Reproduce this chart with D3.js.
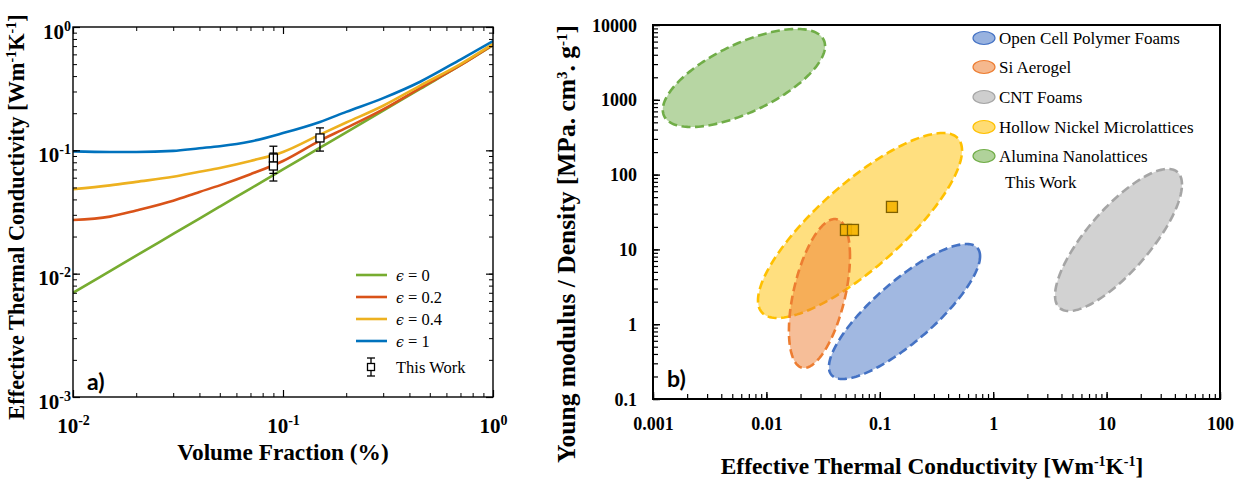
<!DOCTYPE html>
<html>
<head>
<meta charset="utf-8">
<script src="https://cdn.jsdelivr.net/npm/d3@7"></script>
<style>
  body { margin: 0; background: #fff; }
  svg { display: block; }
</style>
</head>
<body>
<svg id="fig" width="1236" height="480"></svg>
<script>
// ---------- Panel a: effective thermal conductivity vs volume fraction ----------
const volumeFraction = [0.01, 0.015, 0.02, 0.03, 0.04, 0.05, 0.07, 0.1, 0.15, 0.2, 0.3, 0.45, 0.7, 1.0];
const kEps0   = [0.0070, 0.0105, 0.0140, 0.0210, 0.0280, 0.0350, 0.0490, 0.0700, 0.105, 0.140, 0.210, 0.315, 0.490, 0.710];
const kEps02  = [0.0272, 0.0290, 0.0325, 0.0390, 0.0460, 0.0520, 0.0640, 0.0820, 0.120, 0.152, 0.215, 0.320, 0.490, 0.720];
const kEps04  = [0.0485, 0.0520, 0.0555, 0.0610, 0.0670, 0.0720, 0.0820, 0.0970, 0.134, 0.168, 0.230, 0.335, 0.500, 0.730];
const kEps1   = [0.0980, 0.0970, 0.0970, 0.0990, 0.1040, 0.1080, 0.1180, 0.1380, 0.170, 0.205, 0.265, 0.360, 0.545, 0.770];
const epsLabels = ["0", "0.2", "0.4", "1"];

// measured samples (volume fraction, conductivity, error bar low/high)
const samplePhi  = [0.09, 0.09, 0.15];
const sampleK    = [0.0866, 0.0746, 0.126];
const sampleKLo  = [0.065, 0.0564, 0.0986];
const sampleKHi  = [0.108, 0.095, 0.152];

const phiTicks = [0.01, 0.1, 1];
const kTicksA  = [0.001, 0.01, 0.1, 1];

// ---------- Panel b: specific modulus vs conductivity ----------
const materials = ["Open Cell Polymer Foams", "Si Aerogel", "CNT Foams", "Hollow Nickel Microlattices", "Alumina Nanolattices"];
const condMin   = [0.0356, 0.0158, 3.51, 0.00843, 0.00122];
const condMax   = [0.766, 0.0546, 46.2, 0.531, 0.0329];
const modMin    = [0.185, 0.26, 1.50, 1.21, 433];
const modMax    = [11.8, 25.5, 119, 360, 8850];
const modCorr   = [0.82, 0.50, 0.78, 0.81, 0.65];   // log-space correlation (tilt of each region)

const workCond = [0.0503, 0.058, 0.128];
const workMod  = [18.2, 18.2, 37];

const condTicks = [0.001, 0.01, 0.1, 1, 10, 100];
const modTicks  = [0.1, 1, 10, 100, 1000, 10000];

// ---------- styling ----------
const serif = "'Liberation Serif','Times New Roman',serif";
const lineColors = ["#77AC30", "#D95319", "#EDB120", "#0072BD"];
const regionColors = ["#4472C4", "#ED7D31", "#A5A5A5", "#FFC000", "#70AD47"];
const drawOrder = [4, 3, 1, 0, 2];

const svg = d3.select("#fig");

// text with superscript pieces: parts = [[string, isSup], ...]
function richText(sel, parts, supSize, shift) {
  parts.forEach(([s, sup], i) => {
    const t = sel.append("tspan").text(s);
    if (sup) t.attr("font-size", supSize).attr("dy", -shift);
    else if (i > 0 && parts[i - 1][1]) t.attr("dy", shift);
  });
  return sel;
}

function styleTicks(g, w) {
  g.select(".domain").remove();
  g.selectAll(".tick line").attr("stroke", "#000").attr("stroke-width", w);
}

// ================= Panel a =================
const xA = d3.scaleLog().domain([0.01, 1]).range([73, 493]);
const yA = d3.scaleLog().domain([0.001, 1]).range([397, 27]);
const gA = svg.append("g");

gA.append("clipPath").attr("id", "clipA")
  .append("rect").attr("x", 73).attr("y", 27).attr("width", 420).attr("height", 370);

const lineA = d3.line().x(d => xA(d[0])).y(d => yA(d[1])).curve(d3.curveMonotoneX);
[kEps0, kEps02, kEps04, kEps1].forEach((ser, i) => {
  gA.append("path")
    .attr("clip-path", "url(#clipA)")
    .attr("d", lineA(volumeFraction.map((p, j) => [p, ser[j]])))
    .attr("fill", "none").attr("stroke", lineColors[i]).attr("stroke-width", 2.6);
});

// error bars + square markers
function sampleMarker(g, cx, cy, ylo, yhi, size) {
  g.append("line").attr("x1", cx).attr("x2", cx).attr("y1", ylo).attr("y2", yhi)
    .attr("stroke", "#000").attr("stroke-width", 1.3);
  [ylo, yhi].forEach(yy => g.append("line")
    .attr("x1", cx - 4).attr("x2", cx + 4).attr("y1", yy).attr("y2", yy)
    .attr("stroke", "#000").attr("stroke-width", 1.3));
  g.append("rect").attr("x", cx - size / 2).attr("y", cy - size / 2)
    .attr("width", size).attr("height", size)
    .attr("fill", "#fff").attr("stroke", "#000").attr("stroke-width", 1.3);
}
samplePhi.forEach((p, i) => {
  sampleMarker(gA, xA(p), yA(sampleK[i]), yA(sampleKLo[i]), yA(sampleKHi[i]), 8);
});

// frame
gA.append("rect").attr("x", 73).attr("y", 27).attr("width", 420).attr("height", 370)
  .attr("fill", "none").attr("stroke", "#000").attr("stroke-width", 1.4);

// ticks (inward, all four sides)
const sides = [
  [d3.axisBottom, xA, "translate(0,397)"],
  [d3.axisTop, xA, "translate(0,27)"],
  [d3.axisLeft, yA, "translate(73,0)"],
  [d3.axisRight, yA, "translate(493,0)"]
];
sides.forEach(([mk, sc, tr]) => {
  gA.append("g").attr("transform", tr)
    .call(mk(sc).tickValues(sc.ticks()).tickSizeInner(-4).tickSizeOuter(0).tickFormat(""))
    .call(g => styleTicks(g, 1));
  gA.append("g").attr("transform", tr)
    .call(mk(sc).tickValues(sc === xA ? phiTicks : kTicksA).tickSizeInner(-7).tickSizeOuter(0).tickFormat(""))
    .call(g => styleTicks(g, 1.2));
});

// power-of-ten labels
function powLabels(g) {
  g.selectAll(".tick text").each(function (d) {
    const t = d3.select(this).text("")
      .attr("font-family", serif).attr("font-weight", "bold").attr("font-size", 21).attr("fill", "#000");
    richText(t, [["10", false], [String(Math.round(Math.log10(d))), true]], 14, 8);
  });
}
gA.append("g").attr("transform", "translate(0,397)")
  .call(d3.axisBottom(xA).tickValues(phiTicks).tickSize(0).tickFormat(() => "x"))
  .call(g => { g.select(".domain").remove(); g.selectAll(".tick line").remove(); })
  .call(powLabels)
  .call(g => g.selectAll(".tick text").attr("dy", null).attr("y", 36).attr("text-anchor", "middle"));
gA.append("g").attr("transform", "translate(73,0)")
  .call(d3.axisLeft(yA).tickValues(kTicksA).tickSize(0).tickFormat(() => "x"))
  .call(g => { g.select(".domain").remove(); g.selectAll(".tick line").remove(); })
  .call(powLabels)
  .call(g => g.selectAll(".tick text").attr("dy", null).attr("x", -2).attr("y", 11).attr("text-anchor", "end"));

// axis titles
gA.append("text").attr("x", 283).attr("y", 460).attr("text-anchor", "middle")
  .attr("font-family", serif).attr("font-weight", "bold").attr("font-size", 23.3)
  .text("Volume Fraction (%)");
richText(gA.append("text").attr("transform", "translate(24,217) rotate(-90)").attr("text-anchor", "middle")
  .attr("font-family", serif).attr("font-weight", "bold").attr("font-size", 22.4),
  [["Effective Thermal Conductivity [Wm", false], ["-1", true], ["K", false], ["-1", true], ["]", false]], 14, 8);

gA.append("text").attr("x", 87).attr("y", 390)
  .attr("font-family", "Lato,'Open Sans',sans-serif").attr("font-weight", "bold").attr("font-size", 23)
  .text("a)");

// legend
const legA = gA.append("g");
const legRows = [275, 297, 319, 341];
epsLabels.forEach((lab, i) => {
  legA.append("line").attr("x1", 356).attr("x2", 387).attr("y1", legRows[i]).attr("y2", legRows[i])
    .attr("stroke", lineColors[i]).attr("stroke-width", 2.6);
  const t = legA.append("text").attr("x", 396).attr("y", legRows[i] + 6)
    .attr("font-family", serif).attr("font-size", 16.5);
  t.append("tspan").attr("font-style", "italic").attr("font-family", "'DejaVu Serif',serif").attr("font-size", 14).text("\u03F5");
  t.append("tspan").text(" = " + lab);
});
sampleMarker(legA, 371, 367, 358, 376, 7);
legA.append("text").attr("x", 396).attr("y", 373).attr("font-family", serif).attr("font-size", 16.5).text("This Work");

// ================= Panel b =================
const xB = d3.scaleLog().domain([0.001, 100]).range([653, 1220]);
const yB = d3.scaleLog().domain([0.1, 10000]).range([399, 25]);
const gB = svg.append("g");

// each region is an ellipse in log-log space defined by its ranges and tilt
function regionPath(i) {
  const lx0 = Math.log10(condMin[i]), lx1 = Math.log10(condMax[i]);
  const ly0 = Math.log10(modMin[i]), ly1 = Math.log10(modMax[i]);
  const cx = (lx0 + lx1) / 2, W = (lx1 - lx0) / 2;
  const cy = (ly0 + ly1) / 2, H = (ly1 - ly0) / 2;
  const r = modCorr[i], s = Math.sqrt(1 - r * r);
  const pts = d3.range(0, 2 * Math.PI, Math.PI / 90).map(t => [
    Math.pow(10, cx + W * Math.cos(t)),
    Math.pow(10, cy + H * (r * Math.cos(t) + s * Math.sin(t)))
  ]);
  return d3.line().x(d => xB(d[0])).y(d => yB(d[1])).curve(d3.curveLinearClosed)(pts);
}
drawOrder.forEach(i => {
  gB.append("path").attr("d", regionPath(i))
    .attr("fill", regionColors[i]).attr("fill-opacity", 0.5)
    .attr("stroke", regionColors[i]).attr("stroke-width", 2.6)
    .attr("stroke-dasharray", "9,4.5");
});

// this work markers
workCond.forEach((c, i) => {
  gB.append("rect").attr("x", xB(c) - 5.5).attr("y", yB(workMod[i]) - 5.5)
    .attr("width", 11).attr("height", 11)
    .attr("fill", "#F5B400").attr("fill-opacity", 0.9)
    .attr("stroke", "#7F6000").attr("stroke-width", 1.3);
});

// frame
gB.append("rect").attr("x", 653).attr("y", 25).attr("width", 567).attr("height", 374)
  .attr("fill", "none").attr("stroke", "#000").attr("stroke-width", 2);

// ticks (bottom + left, inward)
[[d3.axisBottom, xB, "translate(0,399)", condTicks], [d3.axisLeft, yB, "translate(653,0)", modTicks]]
  .forEach(([mk, sc, tr, maj]) => {
    gB.append("g").attr("transform", tr)
      .call(mk(sc).tickValues(sc.ticks()).tickSizeInner(-5).tickSizeOuter(0).tickFormat(""))
      .call(g => styleTicks(g, 1.2));
    gB.append("g").attr("transform", tr)
      .call(mk(sc).tickValues(maj).tickSizeInner(-7).tickSizeOuter(0).tickFormat(""))
      .call(g => styleTicks(g, 1.4));
  });

gB.append("g").attr("transform", "translate(0,399)")
  .call(d3.axisBottom(xB).tickValues(condTicks).tickSize(0).tickFormat(d => String(d)))
  .call(g => { g.select(".domain").remove(); g.selectAll(".tick line").remove(); })
  .call(g => g.selectAll(".tick text").attr("dy", null).attr("y", 31)
    .attr("font-family", serif).attr("font-weight", "bold").attr("font-size", 18).attr("fill", "#000"));
gB.append("g").attr("transform", "translate(653,0)")
  .call(d3.axisLeft(yB).tickValues(modTicks).tickSize(0).tickFormat(d => String(d)))
  .call(g => { g.select(".domain").remove(); g.selectAll(".tick line").remove(); })
  .call(g => g.selectAll(".tick text").attr("dy", null).attr("x", -16).attr("y", 6)
    .attr("font-family", serif).attr("font-weight", "bold").attr("font-size", 18).attr("fill", "#000"));

richText(gB.append("text").attr("x", 932).attr("y", 474).attr("text-anchor", "middle")
  .attr("font-family", serif).attr("font-weight", "bold").attr("font-size", 23.4),
  [["Effective Thermal Conductivity [Wm", false], ["-1", true], ["K", false], ["-1", true], ["]", false]], 14, 8);
richText(gB.append("text").attr("transform", "translate(575,244) rotate(-90)").attr("text-anchor", "middle")
  .attr("font-family", serif).attr("font-weight", "bold").attr("font-size", 25.5),
  [["Young modulus / Density [MPa. cm", false], ["3", true], [". g", false], ["-1", true], ["]", false]], 15, 8);

gB.append("text").attr("x", 667).attr("y", 387)
  .attr("font-family", "Lato,'Open Sans',sans-serif").attr("font-weight", "bold").attr("font-size", 23)
  .text("b)");

// legend
const legB = gB.append("g");
const legBRows = [38, 67, 97, 127, 156];
materials.forEach((m, i) => {
  legB.append("ellipse").attr("cx", 984).attr("cy", legBRows[i]).attr("rx", 11).attr("ry", 6.5)
    .attr("fill", regionColors[i]).attr("fill-opacity", 0.55)
    .attr("stroke", regionColors[i]).attr("stroke-width", 1.2);
  legB.append("text").attr("x", 999).attr("y", legBRows[i] + 5.5)
    .attr("font-family", serif).attr("font-size", 17).text(m);
});
legB.append("text").attr("x", 1005).attr("y", 188)
  .attr("font-family", serif).attr("font-size", 17).text("This Work");
</script>
</body>
</html>
